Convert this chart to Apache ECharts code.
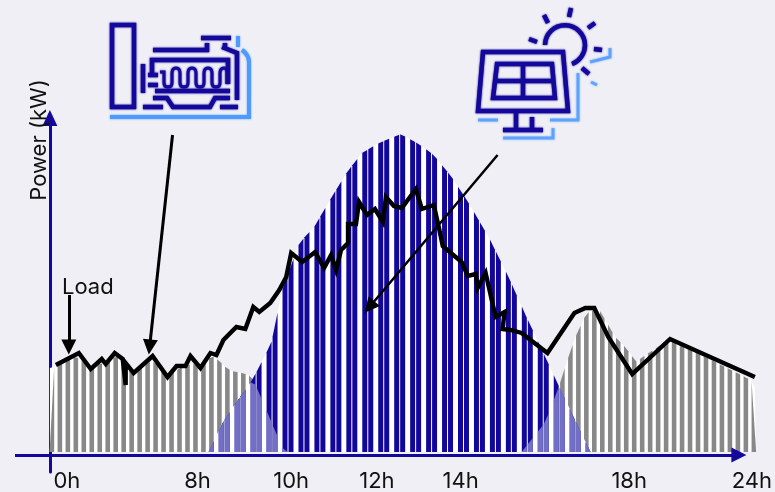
<!DOCTYPE html>
<html lang="en">

<head>
    <meta charset="UTF-8">
    <title>Power profile</title>
    <script src="https://cdn.jsdelivr.net/npm/echarts@6/dist/echarts.min.js"></script>
    <style>
        html, body { margin: 0; padding: 0; background: #efeff5; }
        #main { width: 775px; height: 492px; }
    </style>
</head>

<body>
    <div id="main"></div>
    <script>
        var tickPositions = [17, 148, 242, 328, 412, 581, 704];
        var tickLabels = ['0h', '8h', '10h', '12h', '14h', '18h', '24h'];

        var load = [[6,87],[29,99],[41,83],[52,93],[56,88],[65,99],[73,93],[76,67],[76,89],[84,79],[103,96],[118,75],[127,86],[136,86],[141,96],[151,84],[161,99],[167,97],[174,112],[187,125],[196,123],[204,145],[210,140],[221,149],[230,162],[237,175],[242,199],[253,190],[266,200],[275,184],[282,197],[287,182],[292,202],[299,209],[299,228],[307,228],[310,250],[318,237],[326,243],[334,230],[337,255],[345,246],[353,244],[367,263],[373,243],[385,247],[390,225],[394,206],[413,190],[419,176],[427,178],[429,164],[437,179],[447,135],[456,140],[454,123],[462,122],[473,119],[499,99],[526,139],[537,144],[546,144],[560,115],[584,78],[622,113],[707,75]];

        var pvOutline = [[159,0],[173,29],[185,47],[203,72],[222,109],[233,162],[250,209],[265,225],[282,254],[298,280],[313,299],[330,309],[352,318],[370,308],[385,297],[403,275],[420,249],[440,215],[460,175],[478,135],[495,99],[510,67],[542,0]];
        var genMorning = [[0,84],[2,84],[10,87],[18,92],[26,96],[34,90],[42,82],[50,89],[58,88],[66,97],[74,90],[82,80],[90,83],[98,90],[106,90],[114,79],[122,78],[130,84],[138,87],[146,88],[154,86],[162,97],[170,91],[178,83],[186,80],[194,79],[203,75],[217,42],[235,0]];
        var genEvening = [[473,0],[497,30],[510,64],[518,89],[527,115],[538,139],[550,144],[567,115],[578,104],[588,90],[593,94],[622,113],[703,72],[707,65],[708,5],[705,0]];

        // where the stripes stand; their tops come from the outlines above
        var pvStripeX = [161.8,171.8,177.8,187.8,193.8,203.8,209.8,219.8,225.8,235.8,241.8,251.8,257.8,267.8,273.8,283.8,289.8,299.8,305.8,315.8,321.8,331.8,337.8,347.8,353.8,363.8,369.8,379.8,385.8,395.8,401.8,411.8,417.8,427.8,433.8,443.8,449.8,459.8,465.8,475.8,481.8,491.8,497.8,507.8,513.8,523.8,529.8,539.8];
        var genStripeX = [2,10,18,26,34,42,50,58,66,74,82,90,98,106,114,122,130,138,146,154,162,170,178,186,194,202,514,522,530,538,546,554,562,570,578,586,594,602,610,618,626,634,642,650,658,666,674,682,690,698,706];

        var arrows = [
            { from: [19, 157], to: [19, 105], width: 3, color: '#000000' },
            { from: [123, 317], to: [100, 105], width: 3, color: '#000000' },
            { from: [449, 297], to: [320.5, 145], width: 2.5, color: '#000000' },
            { from: [-35, -3], to: [691, -3], width: 3, color: '#14089b' }
        ];

        var navy = '#14089b';
        var pale = '#4d9bff';
        var textColor = '#111111';
        var fontName = 'Inter';

        function iconPath(pathData, color, width, opacity) {
            return {
                type: 'path',
                shape: { pathData: pathData },
                style: { fill: 'none', stroke: color, lineWidth: width, opacity: opacity || 1, shadowBlur: 2, shadowColor: color }
            };
        }

        // the two pictures are not data, they are drawn once in page pixels
        var iconParts = [
            // generator
            iconPath('M112 25H134V107H112ZM143 64V93M207 43V52M225 43V50M153 50H209M222 47L237 53V100M152 75V60H228V84M148 75H158M148 85H158M155 91H230', navy, 4.5),
            iconPath('M201 38H231M143 107H163M153 98H167L173 107H210L215 98H230M220 107H238', navy, 4.5),
            iconPath('M160 72H164V83Q164 87 168 87Q172 87 172 83V73Q172 68 176 68Q180 68 180 73V83Q180 87 184 87Q188 87 188 83V73Q188 68 192 68Q196 68 196 73V83Q196 87 200 87Q204 87 204 83V73Q204 68 208 68Q212 68 212 73V83Q212 87 216 87Q220 87 220 83V73Q220 68 224 68Q227 68 227 73V84', navy, 3),
            iconPath('M110 117H249V62Q249 55 242 50M238 36V47', pale, 4),
            // solar panel
            iconPath('M483 52H563L568 111H478ZM497 64H552L555 98H493ZM496 81H553M523 64V98', navy, 4.5),
            iconPath('M516 112V128M532 117V128M503 130H543', navy, 4.5),
            iconPath('M545 45A20 20 0 1 1 572 64', navy, 4.5),
            iconPath('M529 39L537 42M544 15L548 23M571 8L569 17M595 23L588 28M594 49L602 50M582 68L589 74', navy, 4.5),
            iconPath('M478 120H498M550 120H578V73M503 138H553V128M591 82L597 85M590 62L610 57V48', pale, 3, 0.75)
        ];

        function topOf(outline, x) {
            for (var i = 1; i < outline.length; i++) {
                var a = outline[i - 1], b = outline[i];
                if (x >= a[0] && x <= b[0] && b[0] > a[0]) {
                    return a[1] + (b[1] - a[1]) * (x - a[0]) / (b[0] - a[0]);
                }
            }
            return 0;
        }

        function genTop(x) {
            return Math.max(topOf(genMorning, x), topOf(genEvening, x));
        }

        function pvTop(x) {
            return topOf(pvOutline, x);
        }

        function overlapTop(x) {
            return Math.min(genTop(x), pvTop(x));
        }

        function areaSeries(data, z) {
            return {
                type: 'line',
                data: data,
                z: z,
                symbol: 'none',
                lineStyle: { width: 0 },
                areaStyle: { color: '#ffffff', opacity: 1 },
                silent: true
            };
        }

        // one vertical stripe per x, its top cut to follow the outline
        function stripeSeries(xs, topFn, width, color, z) {
            return {
                type: 'custom',
                data: xs.map(function (x) { return [x, 0]; }),
                encode: { x: 0, y: 1 },
                z: z,
                silent: true,
                renderItem: function (params, api) {
                    var x = api.value(0);
                    var l = x - width / 2, r = x + width / 2;
                    var tl = topFn(l), tr = topFn(r);
                    if (tl <= 0 && tr <= 0) return null;
                    return {
                        type: 'polygon',
                        shape: { points: [api.coord([l, 0]), api.coord([l, tl]), api.coord([r, tr]), api.coord([r, 0])] },
                        style: { fill: color }
                    };
                }
            };
        }

        var chart = echarts.init(document.getElementById('main'));
        chart.setOption({
            animation: false,
            backgroundColor: '#efeff5',
            grid: { left: 15, right: 0, top: 118, bottom: 20 },
            xAxis: {
                type: 'value',
                min: -35,
                max: 725,
                splitLine: { show: false },
                offset: -17,
                axisLine: { show: false, onZero: false },
                axisTick: { show: false },
                axisLabel: {
                    customValues: tickPositions,
                    formatter: function (value) {
                        return tickLabels[tickPositions.indexOf(value)];
                    },
                    margin: 15,
                    color: textColor,
                    fontFamily: fontName,
                    fontSize: 22,
                    hideOverlap: false,
                    showMinLabel: true,
                    showMaxLabel: true
                }
            },
            yAxis: {
                type: 'value',
                min: -20,
                max: 334,
                splitLine: { show: false },
                axisLine: {
                    onZero: true,
                    symbol: ['none', 'triangle'],
                    symbolSize: [15, 16],
                    lineStyle: { color: navy, width: 3 }
                },
                axisTick: { show: false },
                axisLabel: { show: false }
            },
            series: [
                areaSeries(genMorning, 1),
                areaSeries(genEvening, 1),
                stripeSeries(genStripeX, genTop, 4.6, '#888888', 2),
                areaSeries(pvOutline, 3),
                stripeSeries(pvStripeX, pvTop, 5, '#12069b', 4),
                stripeSeries(pvStripeX, overlapTop, 5, '#7270c4', 5),
                {
                    type: 'line',
                    data: load,
                    z: 6,
                    symbol: 'none',
                    lineStyle: { color: '#000000', width: 4.4, join: 'miter' },
                    silent: true,
                    markLine: {
                        silent: true,
                        animation: false,
                        symbol: ['none', 'triangle'],
                        symbolSize: [15, 15],
                        label: { show: false },
                        data: arrows.map(function (a) {
                            return [
                                { coord: a.from, lineStyle: { width: a.width, color: a.color, type: 'solid' }, itemStyle: { color: a.color } },
                                { coord: a.to }
                            ];
                        })
                    }
                },
                {
                    type: 'custom',
                    data: [[0, 0]],
                    encode: { x: 0, y: 1 },
                    z: 20,
                    clip: false,
                    silent: true,
                    renderItem: function () {
                        return { type: 'group', children: iconParts };
                    }
                }
            ],
            graphic: [
                {
                    type: 'text',
                    x: 62,
                    y: 276,
                    z: 20,
                    style: { text: 'Load', fontFamily: fontName, fontSize: 22, fill: textColor }
                },
                {
                    type: 'text',
                    x: 39,
                    y: 140,
                    rotation: Math.PI / 2,
                    z: 20,
                    style: { text: 'Power (kW)', fontFamily: fontName, fontSize: 22, fill: textColor, align: 'center', verticalAlign: 'middle' }
                }
            ]
        });
    </script>
</body>

</html>
